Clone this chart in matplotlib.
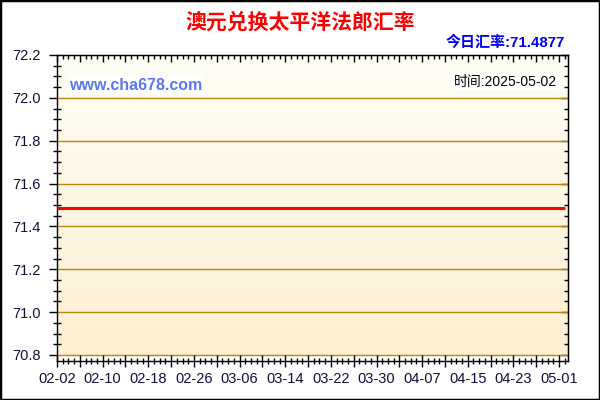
import numpy as np
import pandas as pd
import matplotlib
matplotlib.use('Agg')
from matplotlib import pyplot as plt
from matplotlib.ticker import MultipleLocator, NullFormatter
from matplotlib.colors import LinearSegmentedColormap
from matplotlib.patches import Rectangle

plt.rcParams['font.family'] = ['Liberation Sans', 'Noto Sans CJK SC', 'DejaVu Sans']

title = '澳元兑换太平洋法郎汇率'
today_rate = '今日汇率:71.4877'
date_text = '时间:2025-05-02'
site = 'www.cha678.com'

# daily rates 2025-02-02 .. 2025-05-02 (flat line in the chart)
dates = pd.date_range('2025-02-02', '2025-05-02', freq='D')
rates = [
    71.4877, 71.4877, 71.4877, 71.4877, 71.4877, 71.4877, 71.4877, 71.4877, 71.4877, 71.4877,
    71.4877, 71.4877, 71.4877, 71.4877, 71.4877, 71.4877, 71.4877, 71.4877, 71.4877, 71.4877,
    71.4877, 71.4877, 71.4877, 71.4877, 71.4877, 71.4877, 71.4877, 71.4877, 71.4877, 71.4877,
    71.4877, 71.4877, 71.4877, 71.4877, 71.4877, 71.4877, 71.4877, 71.4877, 71.4877, 71.4877,
    71.4877, 71.4877, 71.4877, 71.4877, 71.4877, 71.4877, 71.4877, 71.4877, 71.4877, 71.4877,
    71.4877, 71.4877, 71.4877, 71.4877, 71.4877, 71.4877, 71.4877, 71.4877, 71.4877, 71.4877,
    71.4877, 71.4877, 71.4877, 71.4877, 71.4877, 71.4877, 71.4877, 71.4877, 71.4877, 71.4877,
    71.4877, 71.4877, 71.4877, 71.4877, 71.4877, 71.4877, 71.4877, 71.4877, 71.4877, 71.4877,
    71.4877, 71.4877, 71.4877, 71.4877, 71.4877, 71.4877, 71.4877, 71.4877, 71.4877, 71.4877,
]
x_tick_labels = ['02-02', '02-10', '02-18', '02-26', '03-06', '03-14',
                 '03-22', '03-30', '04-07', '04-15', '04-23', '05-01']
y_ticks = [70.8, 71.0, 71.2, 71.4, 71.6, 71.8, 72.0, 72.2]

days = np.arange(len(dates))
day_str = list(dates.strftime('%m-%d'))
major_days = days[::4]
major_labels = [day_str[d] if day_str[d] in x_tick_labels else '' for d in major_days]

XMAX = 89.6
YMIN = 70.774

fig = plt.figure(figsize=(6, 4), dpi=100)
ax = fig.add_axes([0.095, 0.09875, 0.852, 0.76375])
ax.set_xlim(0, XMAX)
ax.set_ylim(YMIN, y_ticks[-1])

# gradient background of the plot area
grad = np.linspace(0, 1, 256).reshape(-1, 1)
cmap = LinearSegmentedColormap.from_list('bg', ['#fdefd2', '#fffef6'])
ax.imshow(grad, extent=(0, XMAX, y_ticks[0], y_ticks[-1]), origin='lower',
          aspect='auto', cmap=cmap, zorder=0)

for y in y_ticks[:-1]:
    ax.axhline(y, color='#b8860b', lw=1, zorder=1)

ax.plot(days, rates, color='#ff0000', lw=2.2, solid_capstyle='butt', zorder=3)

# ticks
ax.set_yticks(y_ticks)
ax.set_yticklabels(['%.1f' % v for v in y_ticks])
ax.yaxis.set_minor_locator(MultipleLocator(0.05))
ax.set_xticks(major_days)
ax.set_xticklabels(major_labels)
ax.xaxis.set_minor_locator(MultipleLocator(1))

tick_col = '#101038'
ax.tick_params(axis='x', which='major', direction='inout', length=9, width=1,
               labelsize=10.5, labelcolor=tick_col, pad=4)
ax.tick_params(axis='x', which='minor', direction='inout', length=5, width=1)
ax.tick_params(axis='y', which='major', direction='out', length=6, width=1,
               labelsize=10.5, labelcolor=tick_col, pad=5.8)
ax.tick_params(axis='y', which='minor', direction='inout', length=6, width=1)

for sp in ax.spines.values():
    sp.set_color('black')
    sp.set_linewidth(1)

# inward ticks on top and right
top = ax.secondary_xaxis('top')
top.set_xticks(major_days)
top.xaxis.set_major_formatter(NullFormatter())
top.xaxis.set_minor_locator(MultipleLocator(1))
top.tick_params(which='major', direction='in', length=5, width=1)
top.tick_params(which='minor', direction='in', length=3, width=1)

right = ax.secondary_yaxis('right')
right.set_yticks(y_ticks)
right.yaxis.set_major_formatter(NullFormatter())
right.yaxis.set_minor_locator(MultipleLocator(0.05))
right.tick_params(which='major', direction='in', length=5, width=1)
right.tick_params(which='minor', direction='in', length=3, width=1)

# texts
fig.text(0.5, 1 - 22.5 / 400, title, ha='center', va='center', color='#ff0000',
         fontsize=15, fontweight='bold', family=['Noto Sans CJK SC'])
fig.text(564.5 / 600, 1 - 42.5 / 400, today_rate, ha='right', va='center',
         color='#0000ee', fontsize=10.8, fontweight='bold',
         family=['Liberation Sans', 'Noto Sans CJK SC'])
fig.text(69 / 600, 1 - 85 / 400, site, ha='left', va='center', color='#5a78ee',
         fontsize=11.5, fontweight='bold',
         bbox=dict(fc='white', ec='none', pad=1))
fig.text(557 / 600, 1 - 82 / 400, date_text, ha='right', va='center', color='black',
         fontsize=10, family=['Liberation Sans', 'Noto Sans CJK SC'],
         bbox=dict(fc='white', ec='none', pad=1))

fig.add_artist(Rectangle((0, 0), 1, 1, transform=fig.transFigure, fill=False,
                         ec='black', lw=2.5))

fig.savefig('out.png', dpi=100)
